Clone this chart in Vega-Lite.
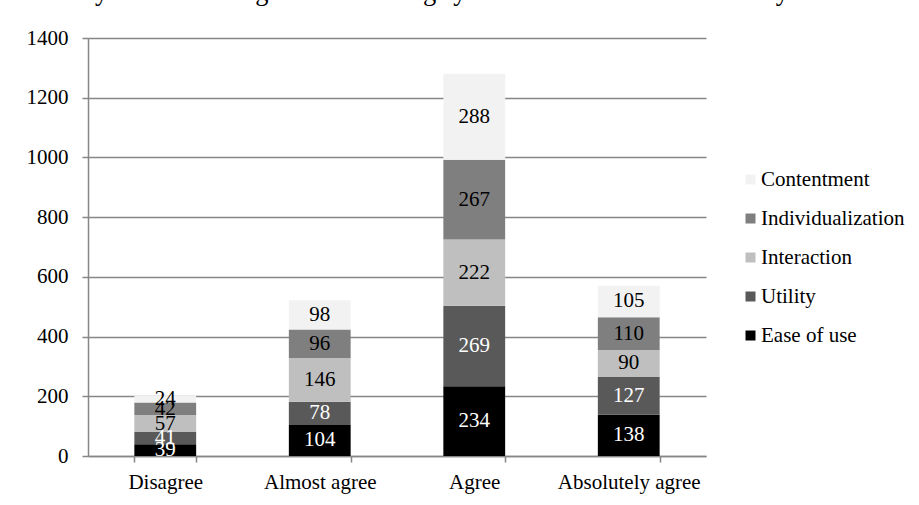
{
  "$schema": "https://vega.github.io/schema/vega-lite/v6.json",
  "width": 618,
  "height": 418,
  "autosize": {"type": "none"},
  "padding": {"top": 38, "left": 88, "right": 213, "bottom": 49},
  "background": "white",
  "title": {
    "text": "difficulty while working with e-learning system services of the university.",
    "anchor": "start",
    "frame": "group",
    "orient": "top",
    "baseline": "alphabetic",
    "dx": -78,
    "dy": 7,
    "offset": 8,
    "font": "Liberation Serif",
    "fontSize": 26.5,
    "fontWeight": "normal",
    "color": "black"
  },
  "data": {
    "values": [
      {"category": "Disagree", "series": "Ease of use", "value": 39},
      {"category": "Disagree", "series": "Utility", "value": 41},
      {"category": "Disagree", "series": "Interaction", "value": 57},
      {"category": "Disagree", "series": "Individualization", "value": 42},
      {"category": "Disagree", "series": "Contentment", "value": 24},
      {"category": "Almost agree", "series": "Ease of use", "value": 104},
      {"category": "Almost agree", "series": "Utility", "value": 78},
      {"category": "Almost agree", "series": "Interaction", "value": 146},
      {"category": "Almost agree", "series": "Individualization", "value": 96},
      {"category": "Almost agree", "series": "Contentment", "value": 98},
      {"category": "Agree", "series": "Ease of use", "value": 234},
      {"category": "Agree", "series": "Utility", "value": 269},
      {"category": "Agree", "series": "Interaction", "value": 222},
      {"category": "Agree", "series": "Individualization", "value": 267},
      {"category": "Agree", "series": "Contentment", "value": 288},
      {"category": "Absolutely agree", "series": "Ease of use", "value": 138},
      {"category": "Absolutely agree", "series": "Utility", "value": 127},
      {"category": "Absolutely agree", "series": "Interaction", "value": 90},
      {"category": "Absolutely agree", "series": "Individualization", "value": 110},
      {"category": "Absolutely agree", "series": "Contentment", "value": 105}
    ]
  },
  "transform": [
    {"calculate": "indexof(['Ease of use', 'Utility', 'Interaction', 'Individualization', 'Contentment'], datum.series)", "as": "stackOrder"}
  ],
  "encoding": {
    "x": {
      "field": "category",
      "type": "nominal",
      "sort": ["Disagree", "Almost agree", "Agree", "Absolutely agree"],
      "scale": {"paddingInner": 0.6, "paddingOuter": 0.3},
      "axis": {
        "title": null,
        "labelAngle": 0,
        "tickBand": "extent",
        "tickSize": 6,
        "tickColor": "#868686",
        "domainColor": "#868686",
        "domainWidth": 1.5,
        "tickWidth": 1.5,
        "labelPadding": 9,
        "labelFont": "Liberation Serif",
        "labelFontSize": 21,
        "labelColor": "black",
        "grid": false
      }
    },
    "y": {
      "field": "value",
      "type": "quantitative",
      "stack": "zero",
      "scale": {"domain": [0, 1400], "nice": false},
      "axis": {
        "title": null,
        "format": "d",
        "values": [0, 200, 400, 600, 800, 1000, 1200, 1400],
        "tickSize": 6,
        "tickColor": "#868686",
        "tickWidth": 1.5,
        "domainColor": "#868686",
        "domainWidth": 1.5,
        "gridColor": "#868686",
        "gridWidth": 1.5,
        "labelPadding": 14,
        "labelFont": "Liberation Serif",
        "labelFontSize": 21,
        "labelColor": "black"
      }
    },
    "order": {"field": "stackOrder", "type": "quantitative", "sort": "ascending"}
  },
  "layer": [
    {
      "mark": {"type": "bar"},
      "encoding": {
        "color": {
          "field": "series",
          "type": "nominal",
          "scale": {
            "domain": ["Ease of use", "Utility", "Interaction", "Individualization", "Contentment"],
            "range": ["#000000", "#595959", "#bfbfbf", "#7f7f7f", "#f2f2f2"]
          },
          "legend": {
            "title": null,
            "orient": "none",
            "legendX": 652,
            "legendY": 131,
            "padding": 0,
            "values": ["Contentment", "Individualization", "Interaction", "Utility", "Ease of use"],
            "symbolType": "square",
            "symbolSize": 100,
            "symbolStrokeWidth": 0,
            "labelFont": "Liberation Serif",
            "labelFontSize": 21,
            "labelColor": "black",
            "labelOffset": 0,
            "rowPadding": 17,
            "labelLimit": 300
          }
        }
      }
    },
    {
      "mark": {"type": "text", "font": "Liberation Serif", "fontSize": 21, "baseline": "middle"},
      "encoding": {
        "y": {"field": "value", "type": "quantitative", "stack": "zero", "bandPosition": 0.5},
        "text": {"field": "value", "type": "quantitative"},
        "color": {
          "field": "series",
          "type": "nominal",
          "scale": {
            "domain": ["Ease of use", "Utility", "Interaction", "Individualization", "Contentment"],
            "range": ["#ffffff", "#ffffff", "#000000", "#000000", "#000000"]
          },
          "legend": null
        }
      }
    }
  ],
  "resolve": {"scale": {"color": "independent"}},
  "config": {
    "view": {"stroke": null}
  }
}
